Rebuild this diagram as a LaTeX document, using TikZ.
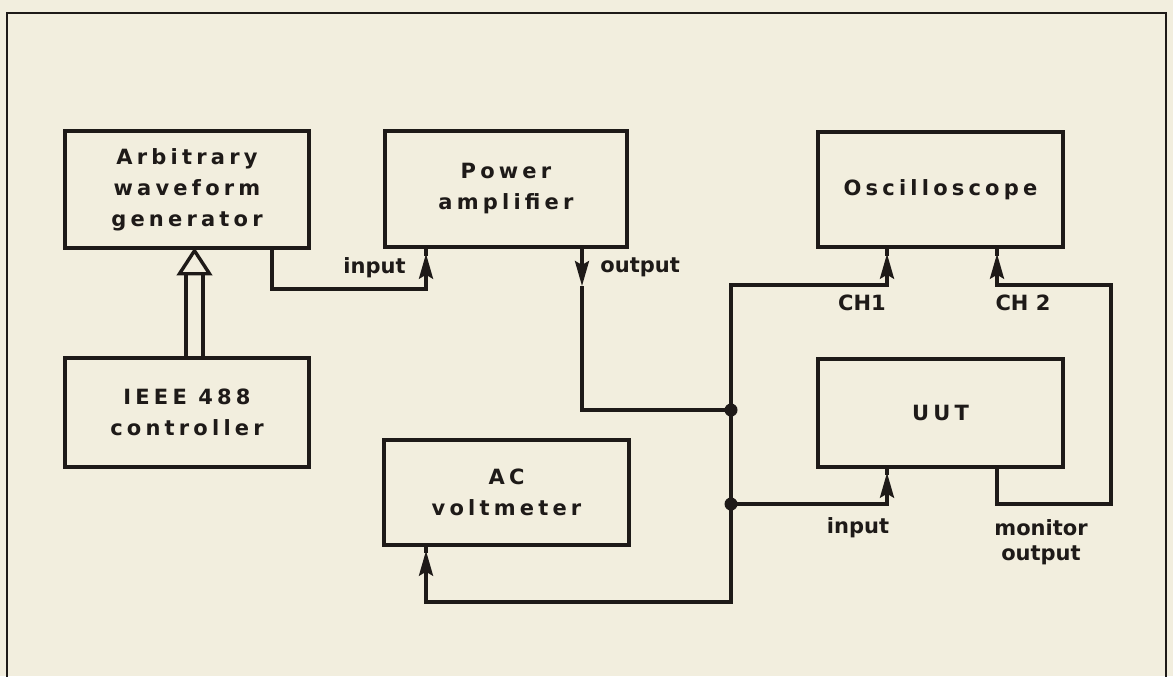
\documentclass[tikz,border=0pt]{standalone}
\usepackage{fontspec}
\setmainfont{DejaVu Sans}
\newfontfamily\boxfam{DejaVu Sans}[LetterSpace=20]
\usetikzlibrary{arrows.meta,calc}
\definecolor{paper}{RGB}{242,238,222}
\definecolor{ink}{RGB}{30,26,24}
\begin{document}
\begin{tikzpicture}[x=0.5pt,y=-0.5pt,
  box/.style={draw=ink, line width=1.7pt, fill=paper, inner sep=0pt, align=center, text=ink,
    font={\boxfam\bfseries\fontsize{10.5pt}{15.5pt}\selectfont}},
  lbl/.style={font={\bfseries\fontsize{10.5pt}{12.5pt}\selectfont}, text=ink, inner sep=0pt, align=center},
  wire/.style={draw=ink, line width=1.7pt},
  arr/.style={-{Stealth[length=12.5pt,width=7pt,inset=2pt]}},
  arrb/.style={{Stealth[length=12.5pt,width=7pt,inset=2pt]}-{Stealth[length=12.5pt,width=7pt,inset=2pt]}},
  jdot/.style={circle, fill=ink, inner sep=0pt, minimum size=6.5pt}]
\fill[paper] (0,0) rectangle (1173,676);
\useasboundingbox (0,0) rectangle (1173,676);
\draw[ink, line width=1.2pt] (7,690) -- (7,13) -- (1166,13) -- (1166,690);

% boxes
\node[box, minimum width=122pt, minimum height=58.5pt] (awg) at (187,189.5) {Arbitrary\\waveform\\generator};
\node[box, minimum width=121pt, minimum height=58pt] (pa) at (506,189) {Power\\amplifier};
\node[box, minimum width=122.5pt, minimum height=57.5pt] (osc) at (940.5,189.5) {Oscilloscope};
\node[box, minimum width=122pt, minimum height=54.5pt] (ieee) at (187,412.5) {IEEE 488\\controller};
\node[box, minimum width=122.5pt, minimum height=54pt] (uut) at (940.5,413) {UUT};
\node[box, minimum width=122.5pt, minimum height=52.5pt] (ac) at (506.5,492.5) {AC\\voltmeter};

% coordinates
\coordinate (p1) at (272,289);
\coordinate (p2) at (426,289);
\coordinate (o1) at (582,286);
\coordinate (j1) at (731,410);
\coordinate (j2) at (731,504);
\coordinate (b1) at (731,285);
\coordinate (b2) at (731,602);
\coordinate (a1) at (426,602);
\coordinate (c1) at (887,285);
\coordinate (u1) at (887,504);
\coordinate (m1) at (997,504);
\coordinate (m2) at (1111,504);
\coordinate (m3) at (1111,285);
\coordinate (m4) at (997,285);

% IEEE bus (double line, hollow head)
\draw[wire] ($(ieee.north)+(-1,0)$) -- ($(awg.south)+(-1,24)$);
\draw[wire] ($(ieee.north)+(16,0)$) -- ($(awg.south)+(16,24)$);
\draw[wire, fill=paper, line join=miter] ($(awg.south)+(-7.5,24)$) -- ($(awg.south)+(7.5,1)$) -- ($(awg.south)+(22.5,24)$) -- cycle;

% generator -> amplifier input
\draw[wire, arr] (awg.south -| p1) -- (p1) -- (p2) -- ($(pa.south -| p2)+(0,5)$);
\draw[wire] (pa.south -| p2) -- ++(0,7);
% amplifier output
\draw[wire, arr] (pa.south -| o1) -- (o1);
\draw[wire] (o1) -- (o1 |- j1) -- (j1);
% main bus: voltmeter <- ... -> CH1
\draw[wire, arrb] ($(ac.south -| a1)+(0,4)$) -- (a1) -- (b2) -- (b1) -- (c1) -- ($(osc.south -| c1)+(0,5)$);
\draw[wire] (ac.south -| a1) -- ++(0,6);
\draw[wire] (osc.south -| c1) -- ++(0,7);
% UUT input
\draw[wire, arr] (j2) -- (u1) -- ($(uut.south -| u1)+(0,4)$);
\draw[wire] (uut.south -| u1) -- ++(0,6);
% monitor output -> CH2
\draw[wire, arr] (uut.south -| m1) -- (m1) -- (m2) -- (m3) -- (m4) -- ($(osc.south -| m4)+(0,5)$);
\draw[wire] (osc.south -| m4) -- ++(0,7);

\node[jdot] (d1) at (j1) {};
\node[jdot] (d2) at (j2) {};

% labels
\node[lbl, anchor=east] (l1) at (406,268) {input};
\node[lbl, anchor=west] (l2) at (600,267) {output};
\node[lbl] (l3) at (862,303) {CH1};
\node[lbl] (l4) at (1023,303) {CH 2};
\node[lbl] (l5) at (858,528) {input};
\node[lbl] (l6) at (1041,542.5) {monitor\\output};
\end{tikzpicture}
\end{document}
